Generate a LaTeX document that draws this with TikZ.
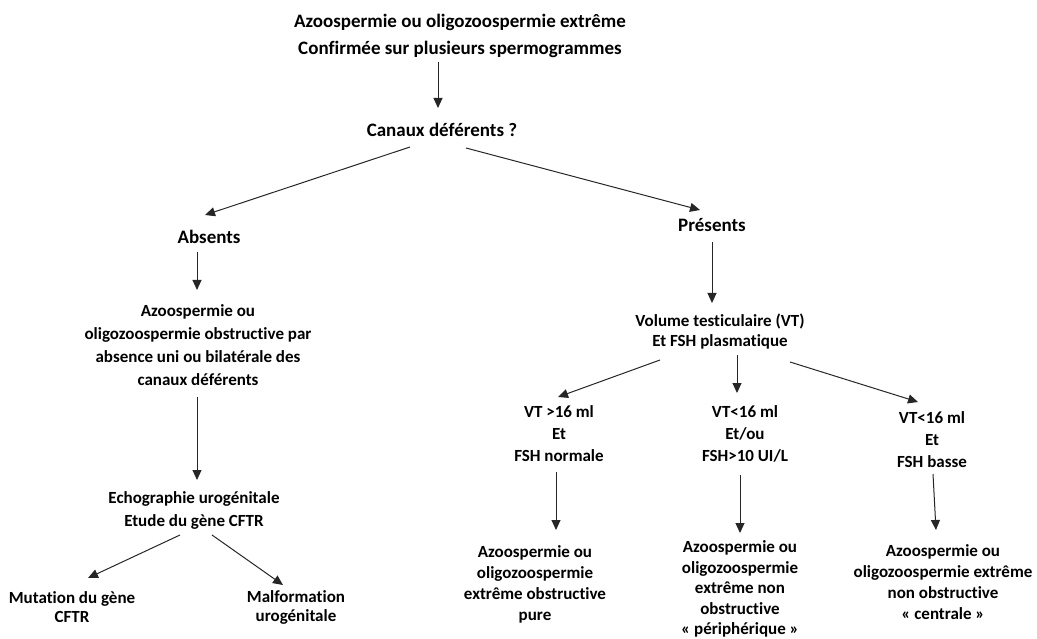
\documentclass[tikz,border=0pt]{standalone}
\usepackage{fontspec}
\setmainfont{Carlito}[Ligatures=NoCommon]
\usetikzlibrary{arrows.meta,calc}
\begin{document}
\begin{tikzpicture}[x=1pt,y=-1pt,
  big/.style={font=\fontsize{19}{27}\selectfont\bfseries, align=center, inner sep=0pt, text=black},
  txt/.style={font=\fontsize{17}{22}\selectfont\bfseries, align=center, inner sep=0pt, text=black},
  arr/.style={-{Triangle[length=10pt,width=9pt]}, line width=1pt, draw=black!85}]
\useasboundingbox (0,0) rectangle (1037,639);

\node[big] (top) at (460,36) {Azoospermie ou oligozoospermie extrême\\Confirmée sur plusieurs spermogrammes};
\node[big] (canaux) at (442,130) {Canaux déférents ?};
\node[big] (absents) at (209,237) {Absents};
\node[big] (presents) at (712,225) {Présents};
\node[txt, font=\fontsize{17}{23}\selectfont\bfseries] (left) at (198,345) {Azoospermie ou\\oligozoospermie obstructive par\\absence uni ou bilatérale des\\canaux déférents};
\node[txt, font=\fontsize{17}{23}\selectfont\bfseries] (echo) at (194,510) {Echographie urogénitale\\Etude du gène CFTR};
\node[txt, font=\fontsize{17}{19}\selectfont\bfseries] (mut) at (72,607) {Mutation du gène\\CFTR};
\node[txt, font=\fontsize{17}{19}\selectfont\bfseries] (malf) at (296,607) {Malformation\\urogénitale};
\node[txt, font=\fontsize{17}{20}\selectfont\bfseries] (vol) at (720,332) {Volume testiculaire (VT)\\Et FSH plasmatique};
\node[txt] (n1) at (559,434) {VT >16 ml\\Et\\FSH normale};
\node[txt] (n2) at (745,434) {VT<16 ml\\Et/ou\\FSH>10 UI/L};
\node[txt] (n3) at (932,440) {VT<16 ml\\Et\\FSH basse};
\node[txt, font=\fontsize{17}{21}\selectfont\bfseries] (b1) at (535,584) {Azoospermie ou\\oligozoospermie\\extrême obstructive\\pure};
\node[txt, font=\fontsize{17}{20.5}\selectfont\bfseries] (b2) at (740,589) {Azoospermie ou\\oligozoospermie\\extrême non\\obstructive\\« périphérique »};
\node[txt, font=\fontsize{17}{21}\selectfont\bfseries] (b3) at (943,582) {Azoospermie ou\\oligozoospermie extrême\\non obstructive\\« centrale »};

\draw[arr] ($(top)+(-22,26)$) -- ($(canaux)+(-4,-22)$);
\draw[arr] ($(canaux)+(-32,17)$) -- ($(absents)+(-4,-22)$);
\draw[arr] ($(canaux)+(24,18)$) -- ($(presents)+(-12,-15)$);
\draw[arr] ($(absents)+(-12,15)$) -- ($(left)+(-1,-55)$);
\draw[arr] ($(left)+(-1,52)$) -- ($(echo)+(3,-30)$);
\draw[arr] ($(echo)+(-14,25)$) -- ($(mut)+(16,-29)$);
\draw[arr] ($(echo)+(18,25)$) -- ($(malf)+(-13,-22)$);
\draw[arr] ($(presents)+(0,17)$) -- ($(vol)+(-8,-29)$);
\draw[arr] ($(vol)+(-60,28)$) -- ($(n1)+(-1,-37)$);
\draw[arr] ($(vol)+(17,23)$) -- ($(n2)+(-8,-41)$);
\draw[arr] ($(vol)+(70,30)$) -- ($(n3)+(-14,-38)$);
\draw[arr] ($(n1)+(-3,38)$) -- ($(b1)+(21,-54)$);
\draw[arr] ($(n2)+(-5,41)$) -- ($(b2)+(0,-56)$);
\draw[arr] ($(n3)+(1,34)$) -- ($(b3)+(-7,-52)$);
\end{tikzpicture}
\end{document}
